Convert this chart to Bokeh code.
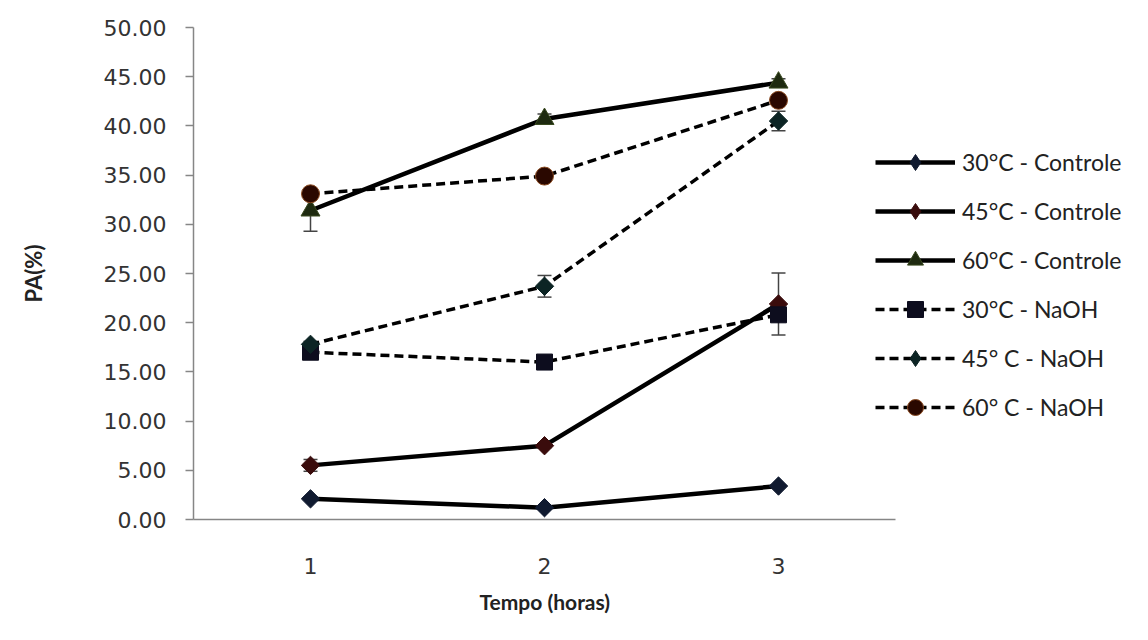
import math
from bokeh.plotting import figure
from bokeh.models import (FixedTicker, NumeralTickFormatter, Range1d, Legend, LegendItem,
                          Whisker, ColumnDataSource, TeeHead, Title)
from bokeh.embed import file_html
from bokeh.resources import INLINE

# ---------------- data ----------------
hours = [1, 2, 3]
x_labels = ["1", "2", "3"]
y_ticks = [0, 5, 10, 15, 20, 25, 30, 35, 40, 45, 50]

ctrl_30 = [2.1, 1.2, 3.4]
ctrl_45 = [5.5, 7.5, 21.9]
ctrl_60 = [31.4, 40.7, 44.4]
naoh_30 = [17.0, 16.0, 20.8]
naoh_45 = [17.8, 23.7, 40.5]
naoh_60 = [33.1, 34.9, 42.6]

err_ctrl_45 = [0.6, 0.2, 3.15]
err_ctrl_60 = [2.1, 0.5, 0.4]
err_naoh_45 = [0.3, 1.1, 1.0]

labels = ["30°C - Controle", "45°C - Controle", "60°C - Controle",
          "30°C - NaOH", "45° C - NaOH", "60° C - NaOH"]

# ---------------- figure ----------------
W, H = 1132, 624
left, top, bottom = 193, 27, 104
cat_px = 234.0  # pixel width of one category slot
x_end = 0.5 + (W - left) / cat_px

p = figure(width=W, height=H, output_backend="svg", toolbar_location=None,
           x_range=Range1d(0.5, x_end), y_range=Range1d(0, 50),
           min_border_left=left, min_border_right=0, min_border_top=top,
           min_border_bottom=bottom)
p.outline_line_color = None
p.xgrid.visible = False
p.ygrid.visible = False
p.background_fill_color = "white"
p.border_fill_color = "white"

axis_col = "#868686"
p.yaxis.ticker = FixedTicker(ticks=y_ticks)
p.yaxis.formatter = NumeralTickFormatter(format="0.00")
p.yaxis.axis_line_color = axis_col
p.yaxis.axis_line_width = 1.5
p.yaxis.major_tick_line_color = axis_col
p.yaxis.major_tick_line_width = 1.5
p.yaxis.major_tick_out = 8
p.yaxis.major_tick_in = 0
p.yaxis.minor_tick_line_color = None
p.yaxis.major_label_text_font = "DejaVu Sans"
p.yaxis.major_label_text_font_size = "22px"
p.yaxis.major_label_text_color = "#333333"
p.yaxis.major_label_standoff = 19
p.yaxis.axis_label = "PA(%)"
p.yaxis.axis_label_text_font = "Lato"
p.yaxis.axis_label_text_font_style = "bold"
p.yaxis.axis_label_text_font_size = "22px"
p.yaxis.axis_label_text_color = "#222222"
p.yaxis.axis_label_standoff = 54

p.xaxis.ticker = FixedTicker(ticks=hours)
p.xaxis.bounds = (0.5, 3.5)
p.xaxis.major_label_overrides = {h: l for h, l in zip(hours, x_labels)}
p.xaxis.axis_line_color = axis_col
p.xaxis.axis_line_width = 1.5
p.xaxis.major_tick_line_color = None
p.xaxis.minor_tick_line_color = None
p.xaxis.major_label_text_font = "DejaVu Sans"
p.xaxis.major_label_text_font_size = "22px"
p.xaxis.major_label_text_color = "#333333"
p.xaxis.major_label_standoff = 32

# x-axis title, centred under the bounded axis (frame extends right for the legend)
xt = Title(text="Tempo (horas)", align="left", offset=286,
           text_font="Lato", text_font_style="bold", text_font_size="21px",
           text_color="#222222", standoff=21)
p.add_layout(xt, "below")

# ---------------- error bars ----------------
def whisker(vals, errs):
    src = ColumnDataSource(dict(x=hours, upper=[v + e for v, e in zip(vals, errs)],
                                lower=[v - e for v, e in zip(vals, errs)]))
    w = Whisker(source=src, base="x", upper="upper", lower="lower",
                line_color="#444444", line_width=1.5,
                upper_head=TeeHead(size=14, line_color="#444444", line_width=1.5),
                lower_head=TeeHead(size=14, line_color="#444444", line_width=1.5))
    p.add_layout(w)

whisker(ctrl_45, err_ctrl_45)
whisker(ctrl_60, err_ctrl_60)
whisker(naoh_45, err_naoh_45)

# ---------------- series ----------------
# (values, style, marker, size, angle, legend marker, fill, edge)
series = [
    (ctrl_30, "solid", "square", 13, math.pi / 4, "diamond", "#101a30", "#101a30"),
    (ctrl_45, "solid", "square", 13, math.pi / 4, "diamond", "#3a0c0c", "#3a0c0c"),
    (ctrl_60, "solid", "triangle", 19, 0, "triangle", "#1e2a10", "#3a4a20"),
    (naoh_30, "dashed", "square", 16, 0, "square", "#0d0d1e", "#0d0d1e"),
    (naoh_45, "dashed", "square", 13, math.pi / 4, "diamond", "#0c2424", "#0c2424"),
    (naoh_60, "dashed", "circle", 18, 0, "circle", "#2a0800", "#8a4a20"),
]

items = []
for (vals, style, marker, size, ang, lmarker, fill, edge), lab in zip(series, labels):
    if style == "solid":
        ln = p.line(hours, vals, line_color="black", line_width=4.5)
    else:
        ln = p.line(hours, vals, line_color="black", line_width=3.5, line_dash="9 5")
    sc = p.scatter(hours, vals, marker=marker, size=size, angle=ang,
                   fill_color=fill, line_color=edge, line_width=1)
    if lmarker != marker:
        proxy = p.scatter(hours, vals, marker=lmarker, size=size,
                          fill_color=fill, line_color=edge, line_width=1, visible=False)
        items.append(LegendItem(label=lab, renderers=[ln, proxy]))
    else:
        items.append(LegendItem(label=lab, renderers=[ln, sc]))

legend = Legend(items=items, location=(682, 92))
legend.glyph_width = 80
legend.glyph_height = 40
legend.label_height = 24
legend.spacing = 9
legend.padding = 5
legend.margin = 0
legend.label_standoff = 7
legend.label_text_font = "Lato"
legend.label_text_font_size = "23px"
legend.label_text_color = "#222222"
legend.border_line_color = None
legend.background_fill_alpha = 0
legend.inactive_fill_alpha = 0
p.add_layout(legend)

open("out.html", "w").write(file_html(p, INLINE))
